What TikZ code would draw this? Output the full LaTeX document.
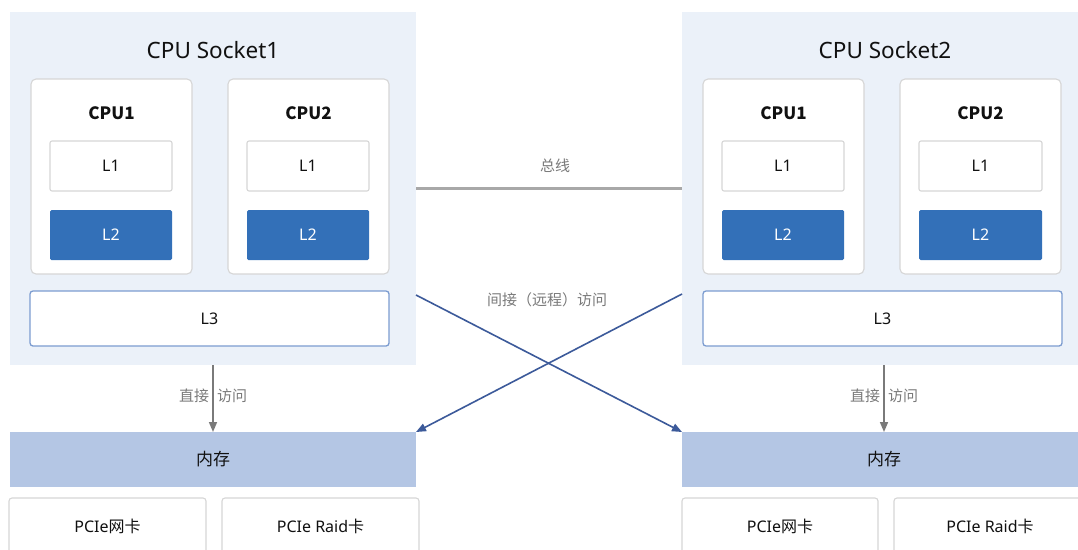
\documentclass[tikz,border=0pt]{standalone}
\usepackage{fontspec}
\setmainfont{Noto Sans}
\newfontfamily\cjk{Noto Sans CJK SC}
\usetikzlibrary{arrows.meta,calc}
\definecolor{sockbg}{HTML}{EBF1F9}
\definecolor{ltwo}{HTML}{3370B8}
\definecolor{membg}{HTML}{B4C6E4}
\definecolor{crossblue}{HTML}{3C5A9A}
\definecolor{arrgray}{HTML}{7A7A7A}
\definecolor{busgray}{HTML}{A8A8A8}
\definecolor{lblgray}{HTML}{7A7A7A}
\definecolor{boxline}{HTML}{D6D6D6}
\definecolor{lthreeline}{HTML}{7C9CD0}
\definecolor{ink}{HTML}{111111}
% rectangle node from corner coordinates: name, style, x1, y1, x2, y2, text
\newcommand\bx[7]{\node[#2, minimum width={(#5-#3)*1pt}, minimum height={(#6-#4)*1pt}] (#1) at ({(#3+#5)/2},{(#4+#6)/2}) {#7};}
\tikzset{
  every node/.style={inner sep=0pt, outer sep=0pt, text=ink},
  sockbox/.style={fill=sockbg},
  cpubox/.style={draw=boxline, line width=1.1pt, fill=white, rounded corners=5pt},
  lonebox/.style={draw=boxline, line width=1.1pt, fill=white, rounded corners=2pt, font=\fontsize{16}{18}\selectfont},
  ltwobox/.style={fill=ltwo, rounded corners=1.5pt, text=white, font=\fontsize{16}{18}\selectfont},
  lthreebox/.style={draw=lthreeline, line width=1.3pt, fill=white, rounded corners=3pt, font=\fontsize{16}{18}\selectfont},
  membox/.style={fill=membg, font=\cjk\fontsize{17}{19}\selectfont},
  pciebox/.style={draw=boxline, line width=1.1pt, fill=white, rounded corners=3pt},
  pcietext/.style={font=\fontsize{16}{18}\selectfont},
  titletext/.style={font=\fontsize{22.5}{24}\selectfont},
  cputext/.style={font=\cjk\bfseries\fontsize{17}{19}\selectfont},
  lbltext/.style={text=lblgray, font=\cjk\fontsize{15}{17}\selectfont},
  crossarrow/.style={draw=crossblue, line width=1.6pt, -{Triangle[length=10pt,width=8pt]}},
  directarrow/.style={draw=arrgray, line width=1.6pt, -{Triangle[length=10pt,width=8pt]}},
  busline/.style={draw=busgray, line width=2.6pt},
}
\begin{document}
\begin{tikzpicture}[x=1pt,y=-1pt]
\useasboundingbox (0,0) rectangle (1078,549);
\clip (0,0) rectangle (1078,549);
\fill[white] (0,0) rectangle (1078,549);

% ---------- Socket 1 ----------
\bx{s1bg}{sockbox}{10}{12}{416}{365}{}
\node[titletext] (s1title) at (213,50) {CPU Socket1};
\bx{s1c1}{cpubox}{31}{79}{192}{274}{}
\bx{s1c2}{cpubox}{228}{79}{389}{274}{}
\node[cputext] (s1c1t) at (111.5,113) {CPU1};
\node[cputext] (s1c2t) at (308.5,113) {CPU2};
\bx{s1c1l1}{lonebox}{50}{141}{172}{191}{L1}
\bx{s1c2l1}{lonebox}{247}{141}{369}{191}{L1}
\bx{s1c1l2}{ltwobox}{50}{210}{172}{260}{L2}
\bx{s1c2l2}{ltwobox}{247}{210}{369}{260}{L2}
\bx{s1l3}{lthreebox}{30}{291}{389}{346}{L3}
\bx{s1mem}{membox}{10}{432}{416}{487}{内存}
\bx{s1nic}{pciebox}{9}{498}{206}{556}{}
\bx{s1raid}{pciebox}{222}{498}{419}{556}{}
\node[pcietext] (s1nict) at (107.5,526) {PCIe{\cjk 网卡}};
\node[pcietext] (s1raidt) at (320.5,526) {PCIe Raid{\cjk 卡}};

% ---------- Socket 2 ----------
\bx{s2bg}{sockbox}{682}{12}{1086}{365}{}
\node[titletext] (s2title) at (885,50) {CPU Socket2};
\bx{s2c1}{cpubox}{703}{79}{864}{274}{}
\bx{s2c2}{cpubox}{900}{79}{1061}{274}{}
\node[cputext] (s2c1t) at (783.5,113) {CPU1};
\node[cputext] (s2c2t) at (980.5,113) {CPU2};
\bx{s2c1l1}{lonebox}{722}{141}{844}{191}{L1}
\bx{s2c2l1}{lonebox}{919}{141}{1042}{191}{L1}
\bx{s2c1l2}{ltwobox}{722}{210}{844}{260}{L2}
\bx{s2c2l2}{ltwobox}{919}{210}{1042}{260}{L2}
\bx{s2l3}{lthreebox}{703}{291}{1062}{346}{L3}
\bx{s2mem}{membox}{682}{432}{1086}{487}{内存}
\bx{s2nic}{pciebox}{682}{498}{878}{556}{}
\bx{s2raid}{pciebox}{894}{498}{1090}{556}{}
\node[pcietext] (s2nict) at (780,526) {PCIe{\cjk 网卡}};
\node[pcietext] (s2raidt) at (990,526) {PCIe Raid{\cjk 卡}};

% ---------- Bus between sockets ----------
\draw[busline] (s1bg.east) -- (s2bg.west);
\node[lbltext] (buslbl) at (555,166) {总线};

% ---------- Direct access ----------
\draw[directarrow] (s1bg.south) -- (s1mem.north);
\draw[directarrow] (s2bg.south) -- (s2mem.north);
\node[lbltext, anchor=east] (d1a) at ($(s1bg.south)+(-4,31)$) {直接};
\node[lbltext, anchor=west] (d1b) at ($(s1bg.south)+(4,31)$) {访问};
\node[lbltext, anchor=east] (d2a) at ($(s2bg.south)+(-4,31)$) {直接};
\node[lbltext, anchor=west] (d2b) at ($(s2bg.south)+(4,31)$) {访问};

% ---------- Remote access ----------
\coordinate (r1) at ($(s1bg.east |- s1l3.north)+(0,4)$);
\coordinate (r2) at ($(s2bg.west |- s2l3.north)+(0,3)$);
\draw[crossarrow] (r1) -- (s2mem.north west);
\draw[crossarrow] (r2) -- (s1mem.north east);
\node[lbltext] (remotelbl) at (547,300) {间接（远程）访问};
\end{tikzpicture}
\end{document}
